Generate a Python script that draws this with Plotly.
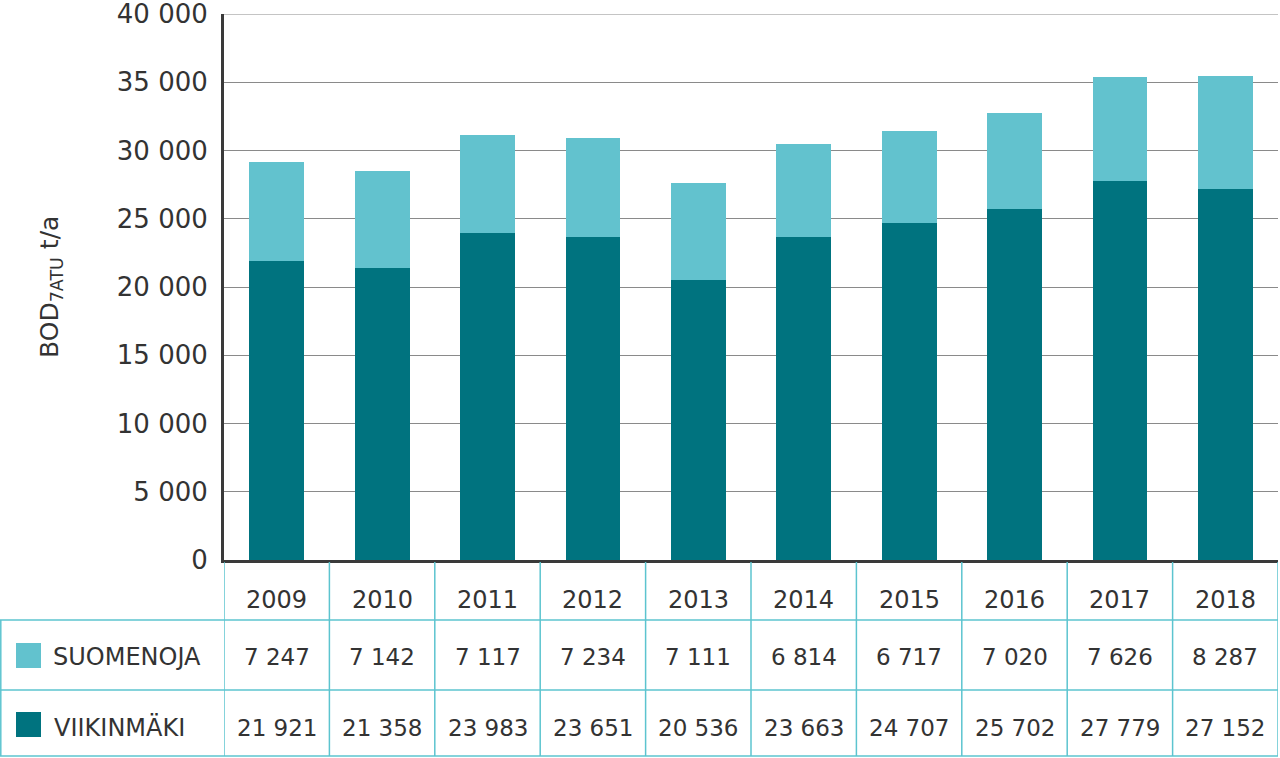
import plotly.graph_objects as go

years = ["2009", "2010", "2011", "2012", "2013", "2014", "2015", "2016", "2017", "2018"]
viikinmaki = [21921, 21358, 23983, 23651, 20536, 23663, 24707, 25702, 27779, 27152]
suomenoja = [7247, 7142, 7117, 7234, 7111, 6814, 6717, 7020, 7626, 8287]
viik_labels = ["21 921", "21 358", "23 983", "23 651", "20 536", "23 663", "24 707", "25 702", "27 779", "27 152"]
suom_labels = ["7 247", "7 142", "7 117", "7 234", "7 111", "6 814", "6 717", "7 020", "7 626", "8 287"]
y_ticks = [0, 5000, 10000, 15000, 20000, 25000, 30000, 35000, 40000]
y_tick_text = ["0", "5 000", "10 000", "15 000", "20 000", "25 000", "30 000", "35 000", "40 000"]

DARK = "#00737F"
LIGHT = "#62C2CE"
LINE = "#5CC4CF"
TXT = "#333333"
FONT = "DejaVu Sans"

W, H = 1280, 758
ML, MR, MT, MB = 224, 2, 14, 198
PH = H - MT - MB  # plot height in px
PW = W - ML - MR


def py(px):
    """pixel y (from top) -> paper y"""
    return (H - MB - px) / PH


def px_x(px):
    return (px - ML) / PW


fig = go.Figure()
fig.add_trace(go.Bar(x=list(range(len(years))), y=viikinmaki, name="VIIKINMÄKI",
                     marker=dict(color=DARK, line=dict(width=0))))
fig.add_trace(go.Bar(x=list(range(len(years))), y=suomenoja, name="SUOMENOJA",
                     marker=dict(color=LIGHT, line=dict(width=0))))

shapes = []
annotations = []
n = len(years)
# top gridline (at range edge)
shapes.append(dict(type="line", xref="paper", yref="y", x0=0, x1=1, y0=y_ticks[-1], y1=y_ticks[-1],
                   line=dict(color="#8a8a8a", width=1.2), layer="below"))
# horizontal table lines
for ypx in [620, 690, 756]:
    shapes.append(dict(type="line", xref="paper", yref="paper", x0=px_x(0), x1=1,
                       y0=py(ypx), y1=py(ypx), line=dict(color=LINE, width=1.5)))
# vertical table lines
for i in range(n + 1):
    shapes.append(dict(type="line", xref="x", yref="paper", x0=i - 0.5, x1=i - 0.5,
                       y0=py(562), y1=py(756), line=dict(color=LINE, width=1.5)))
shapes.append(dict(type="line", xref="paper", yref="paper", x0=px_x(0.8), x1=px_x(0.8),
                   y0=py(620), y1=py(756), line=dict(color=LINE, width=1.5)))
# legend squares
shapes.append(dict(type="rect", xref="paper", yref="paper", x0=px_x(16), x1=px_x(41),
                   y0=py(668), y1=py(643), fillcolor=LIGHT, line=dict(width=0)))
shapes.append(dict(type="rect", xref="paper", yref="paper", x0=px_x(16), x1=px_x(41),
                   y0=py(737), y1=py(712), fillcolor=DARK, line=dict(width=0)))

for i in range(n):
    annotations.append(dict(x=i, y=py(600), xref="x", yref="paper", text=years[i],
                            xanchor="center", yanchor="middle",
                            showarrow=False, font=dict(size=24, color=TXT, family=FONT)))
    annotations.append(dict(x=i, y=py(657), xref="x", yref="paper", text=suom_labels[i],
                            xanchor="center", yanchor="middle",
                            showarrow=False, font=dict(size=23, color=TXT, family=FONT)))
    annotations.append(dict(x=i, y=py(728), xref="x", yref="paper", text=viik_labels[i],
                            xanchor="center", yanchor="middle",
                            showarrow=False, font=dict(size=23, color=TXT, family=FONT)))

annotations.append(dict(x=px_x(51), y=py(657), xref="paper", yref="paper", text="SUOMENOJA",
                        xanchor="left", yanchor="middle", showarrow=False,
                        font=dict(size=24, color=TXT, family=FONT)))
annotations.append(dict(x=px_x(52), y=py(727), xref="paper", yref="paper", text="VIIKINMÄKI",
                        xanchor="left", yanchor="middle", showarrow=False,
                        font=dict(size=24, color=TXT, family=FONT)))
annotations.append(dict(x=px_x(51), y=py(287), xref="paper", yref="paper",
                        text="BOD<sub>7ATU</sub> t/a", textangle=-90, showarrow=False,
                        xanchor="center", yanchor="middle",
                        font=dict(size=25, color=TXT, family=FONT)))

fig.update_layout(
    width=W, height=H,
    margin=dict(l=ML, r=MR, t=MT, b=MB, autoexpand=False),
    barmode="stack", bargap=0.48,
    plot_bgcolor="white", paper_bgcolor="white",
    showlegend=False,
    shapes=shapes, annotations=annotations,
    font=dict(family=FONT, color=TXT),
    xaxis=dict(range=[-0.5, n - 0.5], showticklabels=False, showgrid=False, automargin=False,
               showline=True, linecolor="#3a3a3a", linewidth=3, zeroline=False, ticks=""),
    yaxis=dict(range=[0, 40000], tickvals=y_ticks, ticktext=y_tick_text, automargin=False,
               tickfont=dict(size=26, color=TXT, family=FONT),
               showgrid=True, gridcolor="#8a8a8a", gridwidth=1.2,
               showline=True, linecolor="#3a3a3a", linewidth=3, zeroline=False,
               ticks="", ticklabelstandoff=8, ticklabeloverflow="allow"),
)

fig.write_html("out.html", config={"displayModeBar": False},
               post_script="document.body.style.margin='0';document.body.style.overflow='hidden';")
